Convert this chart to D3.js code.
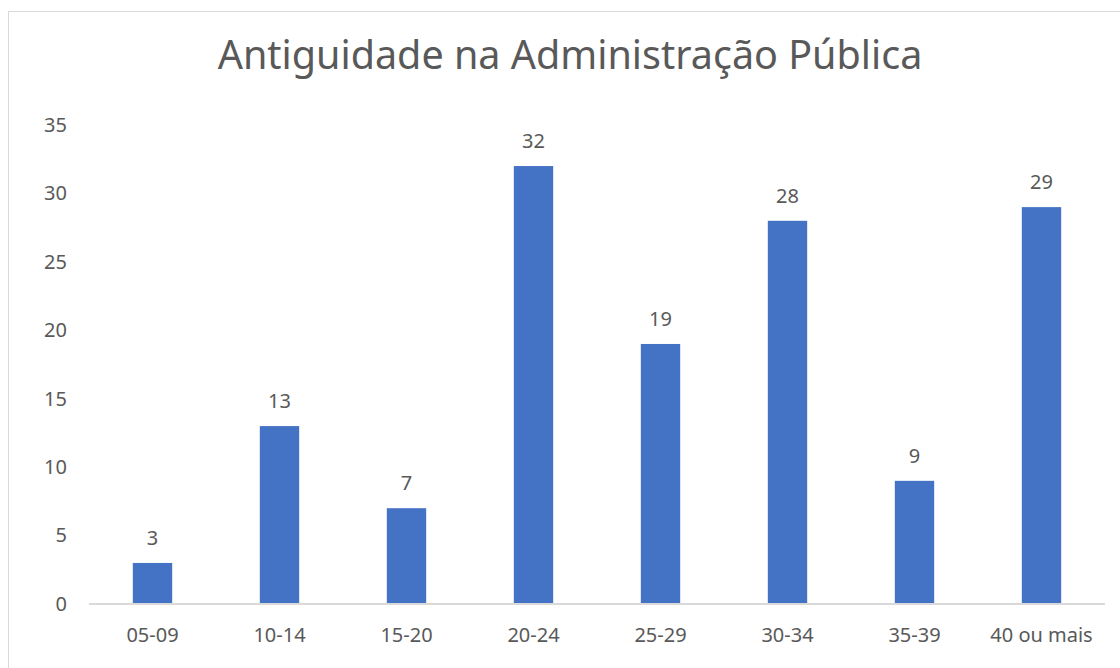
<!DOCTYPE html>
<html>
<head>
<meta charset="utf-8">
<script src="https://cdn.jsdelivr.net/npm/d3@7"></script>
<style>
  html, body { margin: 0; padding: 0; background: #ffffff; }
  svg { display: block; }
  text { font-family: "Noto Sans", "Open Sans", sans-serif; fill: #595959; }
</style>
</head>
<body>
<svg id="chart" width="1120" height="668"></svg>
<script>
const title = "Antiguidade na Administração Pública";
const categories = ["05-09", "10-14", "15-20", "20-24", "25-29", "30-34", "35-39", "40 ou mais"];
const values = [3, 13, 7, 32, 19, 28, 9, 29];
const yTicks = [0, 5, 10, 15, 20, 25, 30, 35];

const svg = d3.select("#chart");
const W = 1120, H = 668;
const margin = { left: 89, right: 15, top: 125, bottom: 64 };
const plotW = W - margin.left - margin.right;
const plotBottom = 604;

// chart border (only top/left visible in reference)
svg.append("rect")
  .attr("x", 8.5).attr("y", 11.5)
  .attr("width", 1130).attr("height", 680)
  .attr("fill", "none").attr("stroke", "#d9d9d9").attr("stroke-width", 1);

const x = d3.scaleBand().domain(categories)
  .range([margin.left, margin.left + plotW])
  .paddingInner(0.69).paddingOuter(0.345);

const y = d3.scaleLinear().domain([0, 35]).range([plotBottom, margin.top]);

svg.append("text")
  .attr("x", 570).attr("y", 69)
  .attr("text-anchor", "middle")
  .style("font-size", "39.5px")
  .text(title);

// y axis labels
const yAxis = d3.axisLeft(y).tickValues(yTicks).tickSize(0).tickPadding(0);
const yg = svg.append("g").attr("transform", `translate(${67},0)`).call(yAxis);
yg.select(".domain").remove();
yg.selectAll("text").style("font-size", "20px").attr("fill", "#595959")
  .style("font-family", "'Noto Sans', sans-serif");

// bars
svg.append("g").selectAll("rect").data(values).join("rect")
  .attr("x", (d, i) => x(categories[i]))
  .attr("y", d => y(d))
  .attr("width", x.bandwidth())
  .attr("height", d => plotBottom - y(d))
  .attr("fill", "#4472c4");

// x axis
const xAxis = d3.axisBottom(x).tickSize(0).tickPadding(24);
const xg = svg.append("g").attr("transform", `translate(0,${plotBottom})`).call(xAxis);
xg.select(".domain").attr("stroke", "#d9d9d9").attr("stroke-width", 2)
  .attr("d", `M${margin.left},0H${margin.left + plotW}`);
xg.selectAll("text").style("font-size", "20px").attr("fill", "#595959")
  .style("font-family", "'Noto Sans', sans-serif");

// data labels
svg.append("g").selectAll("text").data(values).join("text")
  .attr("x", (d, i) => x(categories[i]) + x.bandwidth() / 2)
  .attr("y", d => y(d) - 18)
  .attr("text-anchor", "middle")
  .style("font-size", "20px")
  .text(d => d);
</script>
</body>
</html>
